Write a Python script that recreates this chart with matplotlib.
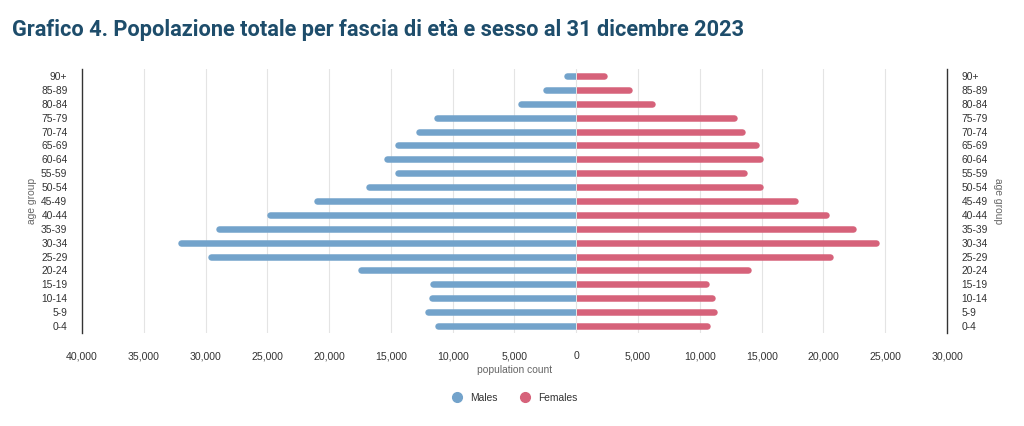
import matplotlib
matplotlib.use("Agg")
import matplotlib.pyplot as plt
from matplotlib.patches import Rectangle
from matplotlib.lines import Line2D

age_groups = ["0-4", "5-9", "10-14", "15-19", "20-24", "25-29", "30-34", "35-39",
              "40-44", "45-49", "50-54", "55-59", "60-64", "65-69", "70-74",
              "75-79", "80-84", "85-89", "90+"]
males = [11480, 12290, 11930, 11880, 17680, 29800, 32260, 29200, 25050, 21270,
         17030, 14710, 15550, 14710, 12960, 11550, 4750, 2750, 1000]
females = [10880, 11390, 11260, 10720, 14120, 20790, 24480, 22620, 20460, 17950,
           15170, 13820, 15090, 14770, 13660, 13060, 6420, 4560, 2490]
x_ticks = list(range(-40000, 30001, 5000))
x_ticklabels = [f"{abs(v):,}" for v in x_ticks]

male_color = "#73a3cb"
female_color = "#d6627a"
title_color = "#1e4d6b"

plt.rcParams['font.family'] = ['Liberation Sans', 'DejaVu Sans']
small = 7.4

W, H = 1024, 426
fig = plt.figure(figsize=(W / 100, H / 100), dpi=100)
ax_l, ax_r, ax_t, ax_b = 82, 947, 69, 333
ax = fig.add_axes([ax_l / W, 1 - ax_b / H, (ax_r - ax_l) / W, (ax_b - ax_t) / H])
xmin, xmax = -40000, 30000
ax.set_xlim(xmin, xmax)
ax.set_ylim(-0.5, len(age_groups) - 0.5)

data_per_px = (xmax - xmin) / (ax_r - ax_l)
bar_px = 6.5
lw_pt = bar_px * 72 / 100
r = bar_px / 2 * data_per_px
gap = 0.6 * data_per_px

ys = list(range(len(age_groups)))
clip_m = Rectangle((xmin, -1), -gap - xmin, len(age_groups) + 2, transform=ax.transData)
clip_f = Rectangle((gap, -1), xmax, len(age_groups) + 2, transform=ax.transData)
lm = ax.hlines(ys, [0] * len(ys), [-(v - r) for v in males], colors=male_color,
               linewidth=lw_pt, zorder=3)
lm.set_capstyle('round')
lm.set_clip_path(clip_m)
lf = ax.hlines(ys, [0] * len(ys), [(v - r) for v in females], colors=female_color,
               linewidth=lw_pt, zorder=3)
lf.set_capstyle('round')
lf.set_clip_path(clip_f)

# grid
ax.set_xticks(x_ticks)
ax.set_xticklabels(x_ticklabels, fontsize=7.6, color="#333333")
ax.tick_params(axis='x', length=0, pad=13)
for v in x_ticks[1:-1]:
    ax.axvline(v, color="#e4e4e4", linewidth=0.8, zorder=1)

ax.set_yticks(ys)
ax.set_yticklabels(age_groups, fontsize=small, color="#333333")
ax.tick_params(axis='y', length=0, pad=10.5, left=True, right=True,
               labelleft=True, labelright=True)

for s in ['top', 'bottom']:
    ax.spines[s].set_visible(False)
for s in ['left', 'right']:
    ax.spines[s].set_color("#333333")
    ax.spines[s].set_linewidth(1.0)

ax.set_xlabel("population count", fontsize=small, color="#666666", labelpad=3)
fig.text(32 / W, 1 - 201 / H, "age group", rotation=90, fontsize=small, color="#666666",
         ha='center', va='center')
fig.text(998 / W, 1 - 201 / H, "age group", rotation=270, fontsize=small, color="#666666",
         ha='center', va='center')

fig.text(12 / W, 1 - 30 / H, "Grafico 4. Popolazione totale per fascia di età e sesso al 31 dicembre 2023",
         fontsize=15.7, fontweight='bold', color=title_color, ha='left', va='center',
         family=['Roboto', 'DejaVu Sans'])

handles = [Line2D([], [], marker='o', linestyle='', markersize=7, color=male_color),
           Line2D([], [], marker='o', linestyle='', markersize=7, color=female_color)]
fig.legend(handles, ["Males", "Females"], loc='center', bbox_to_anchor=(512 / W, 1 - 398 / H),
           ncol=2, frameon=False, fontsize=small, handletextpad=0.3, columnspacing=1.6,
           labelcolor="#333333")

fig.savefig("out.png", dpi=100)
